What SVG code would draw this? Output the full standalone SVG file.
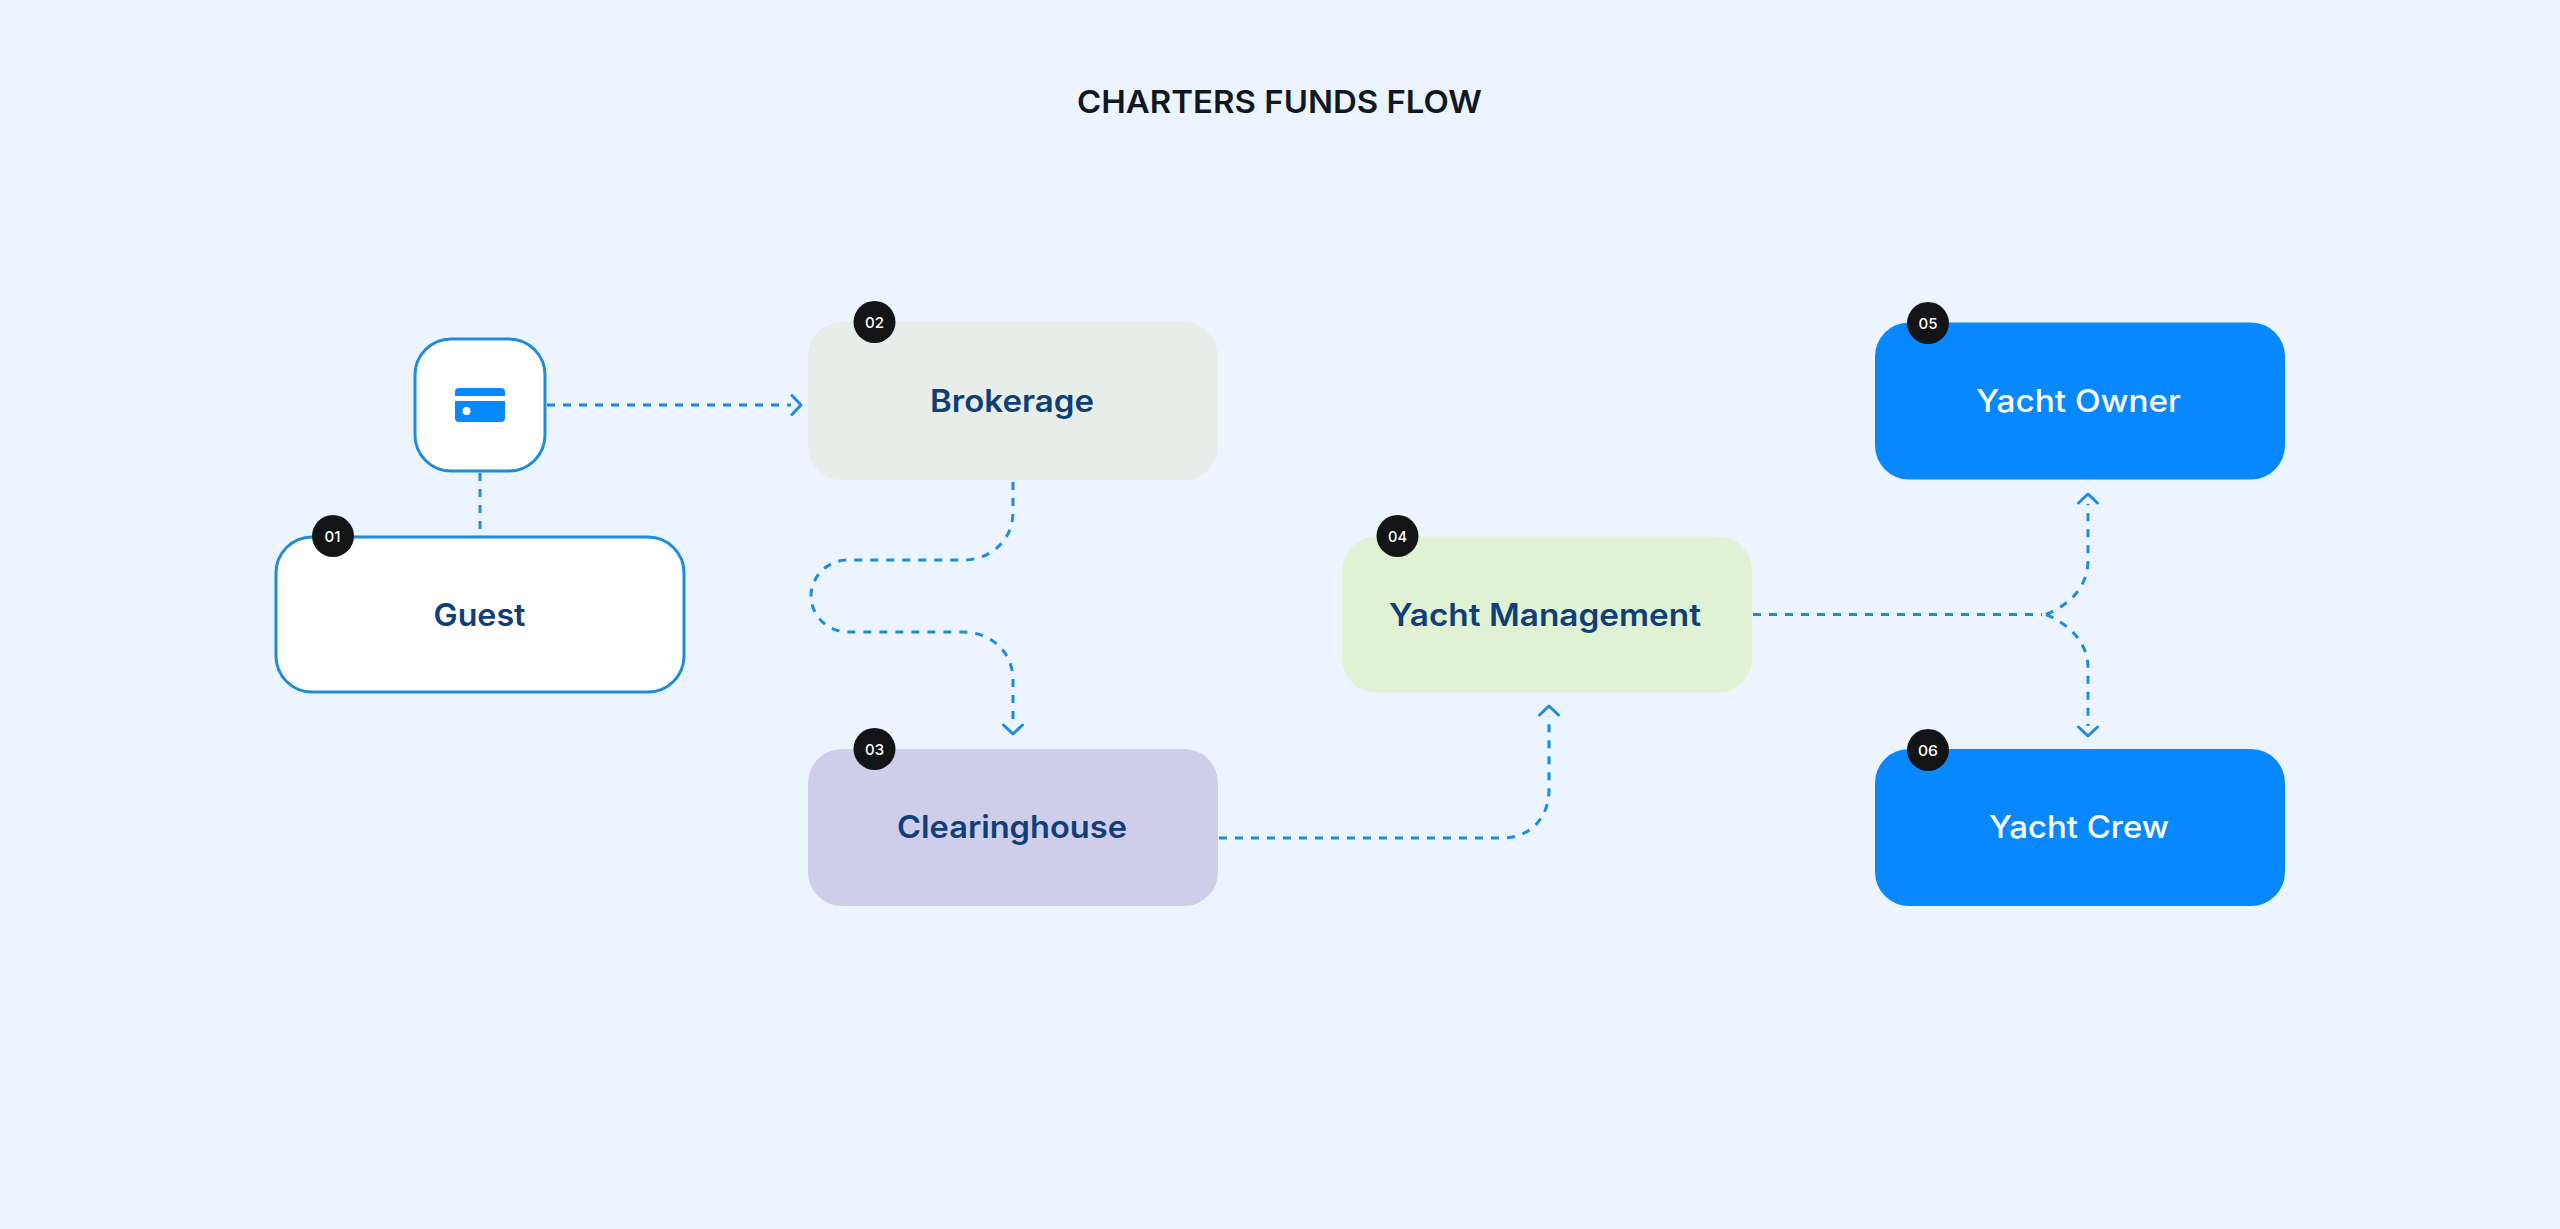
<svg xmlns="http://www.w3.org/2000/svg" width="2560" height="1229" viewBox="0 0 2560 1229">
  <style>
    .title { font: 600 31px Inter, "Noto Sans", sans-serif; fill: #12181f; text-anchor: middle; }
    .label { font: 600 31px Inter, "Noto Sans", sans-serif; fill: #103f78; text-anchor: middle; }
    .light { fill: #ffffff; font-weight: 500; }
    .badge circle { fill: #121416; }
    .badge text { font: 500 15px Inter, "Noto Sans", sans-serif; fill: #ffffff; text-anchor: middle; }
    .box { stroke: none; }
    .outlined { fill: #ffffff; stroke: #1f8bdc; stroke-width: 3; }
    .flow { fill: none; stroke: #1f8bdc; stroke-width: 3; stroke-dasharray: 8 8; }
    .chev { fill: none; stroke: #1f8bdc; stroke-width: 3; stroke-linecap: round; stroke-linejoin: round; }
  </style>
  <defs>
    <!-- open chevron whose tip sits 10px beyond the end of the dashed line -->
    <marker id="chevron" markerUnits="userSpaceOnUse" viewBox="-2 -12 14 24" refX="0" refY="0" markerWidth="14" markerHeight="24" orient="auto">
      <path class="chev" d="M1 -9.500 L10 0 L1 9.500"/>
    </marker>
  </defs>

  <rect width="2560" height="1229" fill="#ebf4ff"/>
  <text id="title" class="title" x="1279.500" y="113" textLength="405" lengthAdjust="spacingAndGlyphs">CHARTERS FUNDS FLOW</text>

  <g id="connectors">
    <path class="flow" d="M480 473 V537"/>
    <path class="flow" d="M547 405 H791" marker-end="url(#chevron)"/>
    <path class="flow" d="M1013 482 V512 C1013 540 991 560 963 560 H848 C826 560 811 578 811 596 C811 614 826 632 848 632 H963 C991 632 1013 652 1013 680 V724" marker-end="url(#chevron)"/>
    <path class="flow" d="M1219 838 H1502 C1530 838 1549 818 1549 790 V716" marker-end="url(#chevron)"/>
    <path class="flow" d="M1753 614.500 H2042"/>
    <path class="flow" d="M2046 614.500 C2066 606 2088 590 2088 560 V504" marker-end="url(#chevron)"/>
    <path class="flow" d="M2046 614.500 C2066 623 2088 640 2088 668 V726" marker-end="url(#chevron)"/>
  </g>

  <g id="card">
    <rect class="outlined" x="415" y="339" width="130" height="132" rx="36"/>
    <path fill="#0788ff" d="M459 388 H501 A4 4 0 0 1 505 392 V396 H455 V392 A4 4 0 0 1 459 388 Z"/>
    <path fill="#0788ff" fill-rule="evenodd" d="M455 401 H505 V418 A4 4 0 0 1 501 422 H459 A4 4 0 0 1 455 418 Z M466.500 407 A4 4 0 1 0 466.600 415 A4 4 0 1 0 466.500 407 Z"/>
  </g>

  <g id="guest">
    <rect class="outlined" x="276" y="537" width="408" height="155" rx="36"/>
    <text class="label" x="479.500" y="626" textLength="92" lengthAdjust="spacingAndGlyphs">Guest</text>
    <g class="badge"><circle cx="333" cy="536" r="21"/><text x="332.500" y="541.500" textLength="16" lengthAdjust="spacingAndGlyphs">01</text></g>
  </g>

  <g id="brokerage">
    <rect class="box" x="808" y="322" width="410" height="158" rx="34" fill="#e7ede9"/>
    <text class="label" x="1012" y="412" textLength="164" lengthAdjust="spacingAndGlyphs">Brokerage</text>
    <g class="badge"><circle cx="874.500" cy="322" r="21"/><text x="874.500" y="327.500" textLength="19" lengthAdjust="spacingAndGlyphs">02</text></g>
  </g>

  <g id="clearinghouse">
    <rect class="box" x="808" y="749" width="410" height="157" rx="34" fill="#cfceea"/>
    <text class="label" x="1012" y="838" textLength="230" lengthAdjust="spacingAndGlyphs">Clearinghouse</text>
    <g class="badge"><circle cx="874.500" cy="749" r="21"/><text x="874.500" y="754.500" textLength="19" lengthAdjust="spacingAndGlyphs">03</text></g>
  </g>

  <g id="management">
    <rect class="box" x="1342" y="536.500" width="410" height="156" rx="34" fill="#dff2d3"/>
    <text class="label" x="1545" y="626" textLength="312" lengthAdjust="spacingAndGlyphs">Yacht Management</text>
    <g class="badge"><circle cx="1397.500" cy="536" r="21"/><text x="1397.500" y="541.500" textLength="19" lengthAdjust="spacingAndGlyphs">04</text></g>
  </g>

  <g id="owner">
    <rect class="box" x="1875" y="322.500" width="410" height="157" rx="34" fill="#0788ff"/>
    <text class="label light" x="2078.500" y="412" textLength="205" lengthAdjust="spacingAndGlyphs">Yacht Owner</text>
    <g class="badge"><circle cx="1928" cy="323" r="21"/><text x="1928" y="328.500" textLength="19" lengthAdjust="spacingAndGlyphs">05</text></g>
  </g>

  <g id="crew">
    <rect class="box" x="1875" y="749" width="410" height="157" rx="34" fill="#0788ff"/>
    <text class="label light" x="2079" y="838" textLength="180" lengthAdjust="spacingAndGlyphs">Yacht Crew</text>
    <g class="badge"><circle cx="1928" cy="750" r="21"/><text x="1928" y="755.500" textLength="20" lengthAdjust="spacingAndGlyphs">06</text></g>
  </g>
</svg>
